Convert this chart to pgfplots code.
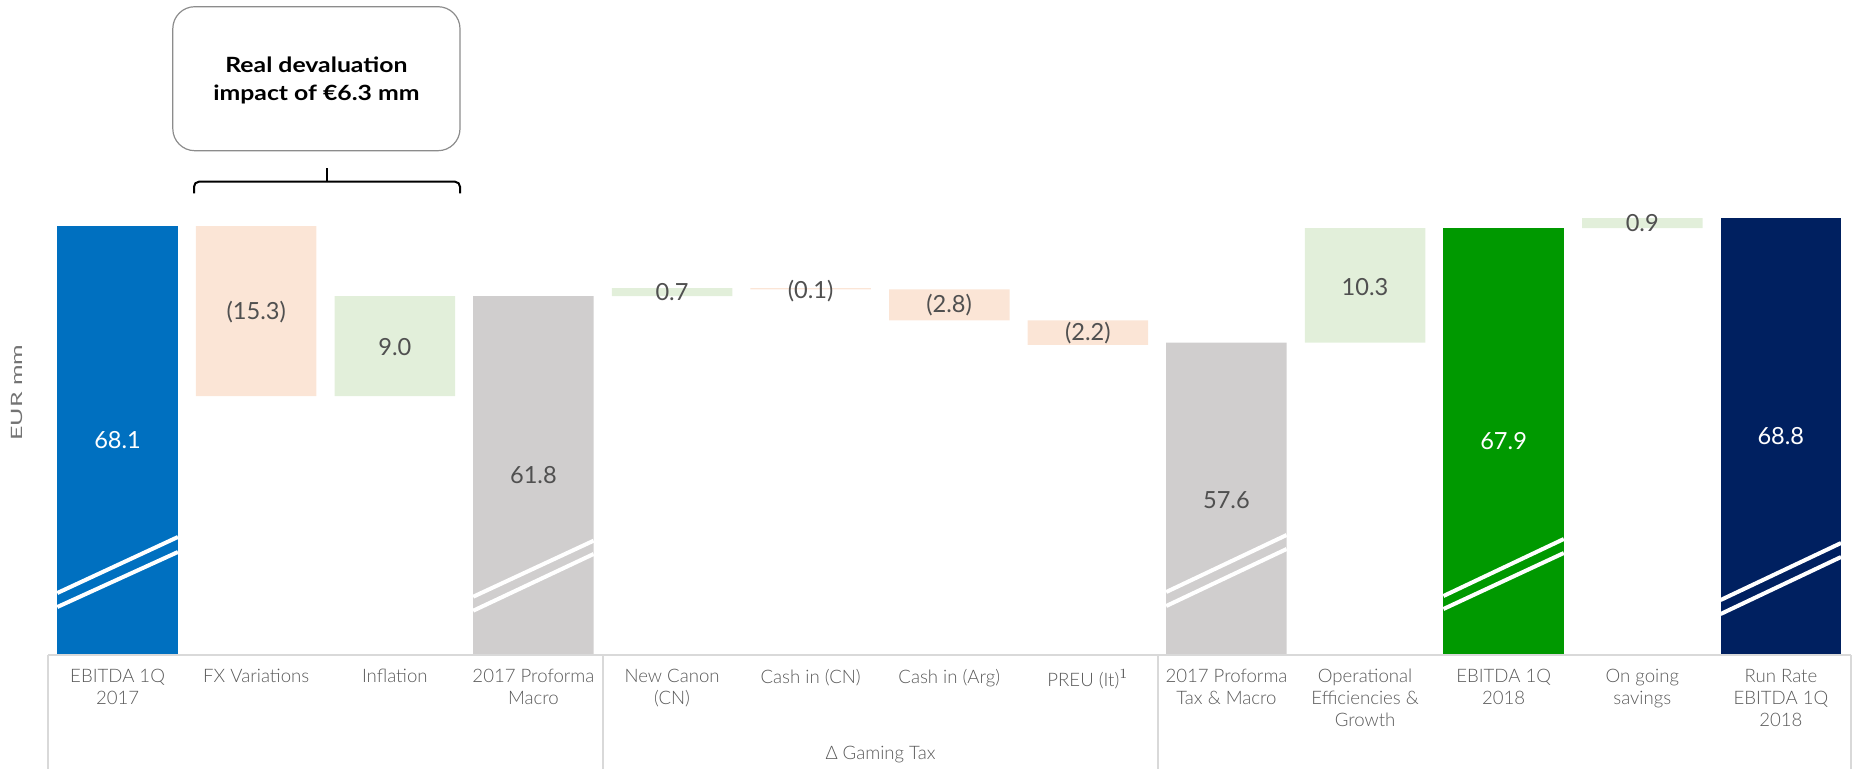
\documentclass[border=0pt]{standalone}
\usepackage{pgfplots}
\pgfplotsset{compat=1.18}
\usepackage{graphicx}
\usepackage{fontspec}
\setmainfont{Lato}[UprightFont={* Light},BoldFont={* Bold}]
\newfontfamily\valuefont{Lato}

\definecolor{ebitdablue}{HTML}{0070C0}
\definecolor{negfill}{HTML}{FBE5D6}
\definecolor{posfill}{HTML}{E2EFDA}
\definecolor{subtotal}{HTML}{D0CECE}
\definecolor{ebitdagreen}{HTML}{009900}
\definecolor{runnavy}{HTML}{002060}
\definecolor{labelgray}{HTML}{595959}
\definecolor{valuegray}{HTML}{505050}
\definecolor{framegray}{HTML}{D9D9D9}
\definecolor{boxgray}{HTML}{8C8C8C}
\definecolor{axisgray}{HTML}{737373}

\begin{document}
\begin{tikzpicture}
\begin{axis}[
  scale only axis,
  width=928pt, height=327.5pt,
  xmin=-0.8485, xmax=12.5418,
  ymin=29.49, ymax=88.44,
  enlargelimits=false,
  ybar stacked, bar width=60.25pt,
  axis line style={draw=none},
  ytick=\empty,
  xtick={0,1,2,3,4,5,6,7,8,9,10,11,12},
  major tick length=0pt,
  xticklabels={{EBITDA 1Q\\2017},{FX Variations},{Inflation},{2017 Proforma\\Macro},
    {New Canon\\(CN)},{Cash in (CN)},{Cash in (Arg)},{PREU (It)$^{1}$},
    {2017 Proforma\\Tax \& Macro},{Operational\\Efficiencies \&\\Growth},{EBITDA 1Q\\2018},
    {On going\\savings},{Run Rate\\EBITDA 1Q\\2018}},
  xticklabel style={align=center, font=\fontsize{9.3}{10.9}\selectfont,
    text=labelgray, inner sep=0pt, anchor=north, yshift=-7pt},
]
% invisible base of each floating bar
\addplot[draw=none, fill=none] coordinates {(0,0) (1,52.8) (2,52.8) (3,0) (4,61.8)
  (5,62.4) (6,59.6) (7,57.4) (8,0) (9,57.6) (10,0) (11,67.9) (12,0)};
% EBITDA 1Q 2017
\addplot[draw=none, fill=ebitdablue] coordinates {(0,68.1) (1,0) (2,0) (3,0) (4,0)
  (5,0) (6,0) (7,0) (8,0) (9,0) (10,0) (11,0) (12,0)};
% decreases
\addplot[draw=none, fill=negfill] coordinates {(0,0) (1,15.3) (2,0) (3,0) (4,0)
  (5,0.1) (6,2.8) (7,2.2) (8,0) (9,0) (10,0) (11,0) (12,0)};
% increases
\addplot[draw=none, fill=posfill] coordinates {(0,0) (1,0) (2,9.0) (3,0) (4,0.7)
  (5,0) (6,0) (7,0) (8,0) (9,10.3) (10,0) (11,0.9) (12,0)};
% proforma subtotals
\addplot[draw=none, fill=subtotal] coordinates {(0,0) (1,0) (2,0) (3,61.8) (4,0)
  (5,0) (6,0) (7,0) (8,57.6) (9,0) (10,0) (11,0) (12,0)};
% EBITDA 1Q 2018
\addplot[draw=none, fill=ebitdagreen] coordinates {(0,0) (1,0) (2,0) (3,0) (4,0)
  (5,0) (6,0) (7,0) (8,0) (9,0) (10,67.9) (11,0) (12,0)};
% Run rate EBITDA 1Q 2018
\addplot[draw=none, fill=runnavy] coordinates {(0,0) (1,0) (2,0) (3,0) (4,0)
  (5,0) (6,0) (7,0) (8,0) (9,0) (10,0) (11,0) (12,68.8)};
\end{axis}

% overlays in pixel units from the top-left corner (1 px = 0.5 pt)
\begin{scope}[x=0.5pt, y=-0.5pt, shift={(0pt,327.5pt)}]
% axis-break marks across the total bars
\begin{scope}[white, line width=2pt]
\draw (57.3,593) -- (177.9,537);     \draw (57.3,607) -- (177.9,552);
\draw (473.2,596.7) -- (593.6,540.7); \draw (473.2,610.7) -- (593.6,554);
\draw (1166.2,592) -- (1286.6,535);  \draw (1166.2,606) -- (1286.6,549);
\draw (1443.4,596) -- (1563.8,539);  \draw (1443.4,609) -- (1563.8,553);
\draw (1720.6,600) -- (1841,543);    \draw (1720.6,614) -- (1841,557);
\end{scope}
% value labels
\begin{scope}[font=\valuefont\fontsize{11.8}{13}\selectfont]
\node[white]     at (117.6,440)   {68.1};
\node[valuegray] at (256.2,312)   {(15.3)};
\node[valuegray] at (394.8,347)   {9.0};
\node[valuegray] at (533.4,475.5) {61.8};
\node[valuegray] at (672,292.5)   {0.7};
\node[valuegray] at (810.6,290.7) {(0.1)};
\node[valuegray] at (949.2,305)   {(2.8)};
\node[valuegray] at (1087.8,333)  {(2.2)};
\node[valuegray] at (1226.4,500)  {57.6};
\node[valuegray] at (1365,286.6)  {10.3};
\node[white]     at (1503.6,441)  {67.9};
\node[valuegray] at (1642.2,223)  {0.9};
\node[white]     at (1780.8,436.5){68.8};
\end{scope}
% category frame
\draw[framegray, line width=0.75pt] (48,655) -- (1851,655);
\draw[framegray, line width=0.75pt] (48,655) -- (48,770);
\draw[framegray, line width=0.75pt] (603,655) -- (603,770);
\draw[framegray, line width=0.75pt] (1158,655) -- (1158,770);
\draw[framegray, line width=0.75pt] (1851,655) -- (1851,770);
\node[labelgray, font=\fontsize{9.3}{10.9}\selectfont] at (880.5,755) {Δ Gaming Tax};
\node[axisgray, rotate=90, font=\valuefont\fontsize{7.8}{9}\selectfont] at (16.7,392.5)
  {\scalebox{1.6}[1]{EUR mm}};
% call-out and bracket
\draw[boxgray, line width=0.6pt, rounded corners=11pt] (172.8,6.7) rectangle (460,150.7);
\node[align=center, font=\fontsize{10.5}{13.6}\selectfont\bfseries] at (316.4,80.5)
  {\scalebox{1.18}[1]{Real devaluation}\\\scalebox{1.18}[1]{impact of €6.3 mm}};
\draw[black, line width=1pt, rounded corners=2.5pt]
  (194,193.3) -- (194,181.7) -- (460,181.7) -- (460,193.3);
\draw[black, line width=1pt] (327.4,181.7) -- (327.4,168.3);
\end{scope}

\pgfresetboundingbox
\path (0pt,-56.5pt) rectangle (928pt,327.5pt);
\end{tikzpicture}
\end{document}
